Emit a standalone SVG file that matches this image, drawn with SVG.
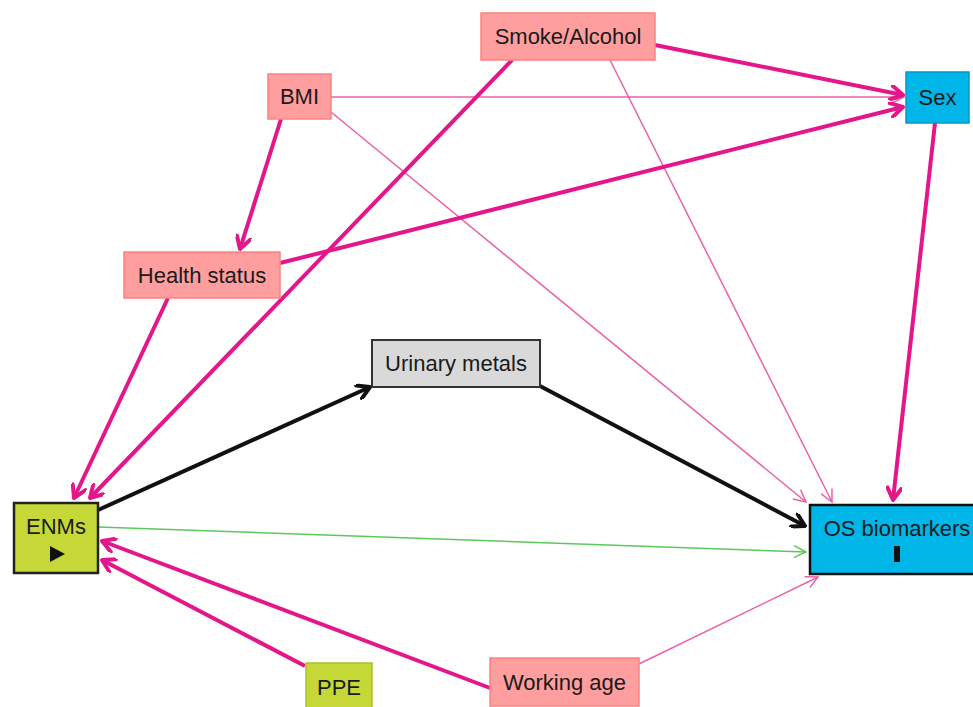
<svg xmlns="http://www.w3.org/2000/svg" width="973" height="707" viewBox="0 0 973 707">
<style>
.node text{font-family:"Liberation Sans",Arial,sans-serif;font-size:22px;fill:#1a1a1a;text-anchor:middle}
.pink{fill:#FF9E9E;stroke:#FF8080;stroke-width:1.5}
.lime{fill:#C5D837;stroke:#222;stroke-width:2.5}
.lime2{fill:#C5D837;stroke:#A8C02A;stroke-width:1.5}
.cyan{fill:#00B5E8;stroke:#0098C8;stroke-width:1.5}
.cyanB{fill:#00B5E8;stroke:#111;stroke-width:2.5}
.gray{fill:#D9D9D9;stroke:#333;stroke-width:2}
.thick{stroke:#E4168A;stroke-width:4;fill:none;marker-end:url(#mT)}
.thin{stroke:#EC5FA8;stroke-width:1.5;fill:none;marker-end:url(#mt)}
.black{stroke:#111;stroke-width:4;fill:none;marker-end:url(#mB)}
.green{stroke:#5CC85C;stroke-width:1.5;fill:none;marker-end:url(#mG)}
</style>
<defs>
<marker id="mT" markerUnits="userSpaceOnUse" viewBox="-14 -8 16 16" refX="0" refY="0" markerWidth="16" markerHeight="16" orient="auto"><path d="M-12,-7 L0,0 L-12,7" fill="none" stroke="#E4168A" stroke-width="4" stroke-linecap="round" stroke-linejoin="round"/></marker>
<marker id="mt" markerUnits="userSpaceOnUse" viewBox="-14 -8 16 16" refX="0" refY="0" markerWidth="16" markerHeight="16" orient="auto"><path d="M-12,-6 L0,0 L-12,6" fill="none" stroke="#EC5FA8" stroke-width="1.5"/></marker>
<marker id="mB" markerUnits="userSpaceOnUse" viewBox="-14 -8 16 16" refX="0" refY="0" markerWidth="16" markerHeight="16" orient="auto"><path d="M-12,-7 L0,0 L-12,7" fill="none" stroke="#111" stroke-width="4" stroke-linecap="round" stroke-linejoin="round"/></marker>
<marker id="mG" markerUnits="userSpaceOnUse" viewBox="-14 -8 16 16" refX="0" refY="0" markerWidth="16" markerHeight="16" orient="auto"><path d="M-12,-6 L0,0 L-12,6" fill="none" stroke="#5CC85C" stroke-width="1.5"/></marker>
</defs>
<rect width="973" height="707" fill="#fff"/>
<g id="connectors">
<line class="thin" x1="331" y1="97" x2="904" y2="97"/>
<line class="thin" x1="331" y1="112" x2="806" y2="502"/>
<line class="thin" x1="610" y1="60" x2="832" y2="502"/>
<line class="thin" x1="639" y1="664" x2="818" y2="577"/>
<line class="green" x1="98" y1="527" x2="806" y2="552"/>
<line class="thick" x1="281" y1="119" x2="240" y2="249"/>
<line class="thick" x1="655" y1="45" x2="903" y2="95"/>
<line class="thick" x1="512" y1="60" x2="90" y2="498"/>
<line class="thick" x1="280" y1="263" x2="903" y2="107"/>
<line class="thick" x1="168" y1="298" x2="74" y2="498"/>
<line class="thick" x1="935" y1="123" x2="893" y2="500"/>
<line class="thick" x1="305" y1="666" x2="102" y2="560"/>
<line class="thick" x1="490" y1="688" x2="102" y2="541"/>
<line class="black" x1="98" y1="510" x2="370" y2="387"/>
<line class="black" x1="540" y1="386" x2="805" y2="526"/>
</g>
<g id="smoke" class="node"><rect class="pink" x="481" y="13" width="174" height="47"/><text x="568" y="44">Smoke/Alcohol</text></g>
<g id="bmi" class="node"><rect class="pink" x="268" y="74" width="63" height="45"/><text x="299.5" y="104">BMI</text></g>
<g id="sex" class="node"><rect class="cyan" x="906" y="72" width="63" height="51"/><text x="937.5" y="105">Sex</text></g>
<g id="health" class="node"><rect class="pink" x="124" y="252" width="156" height="46"/><text x="202" y="283">Health status</text></g>
<g id="urinary" class="node"><rect class="gray" x="372" y="340" width="168" height="47"/><text x="456" y="371">Urinary metals</text></g>
<g id="enms" class="node"><rect class="lime" x="14" y="503" width="84" height="70"/><text x="56" y="534">ENMs</text><path d="M50,546 L65,554 L50,562 Z" fill="#111"/></g>
<g id="os" class="node"><rect class="cyanB" x="810" y="505" width="175" height="69"/><text x="897" y="536">OS biomarkers</text><rect x="894" y="546" width="6" height="16" fill="#111"/></g>
<g id="ppe" class="node"><rect class="lime2" x="306" y="663" width="66" height="50"/><text x="339" y="695">PPE</text></g>
<g id="working" class="node"><rect class="pink" x="490" y="658" width="149" height="48"/><text x="564.5" y="690">Working age</text></g>
</svg>
